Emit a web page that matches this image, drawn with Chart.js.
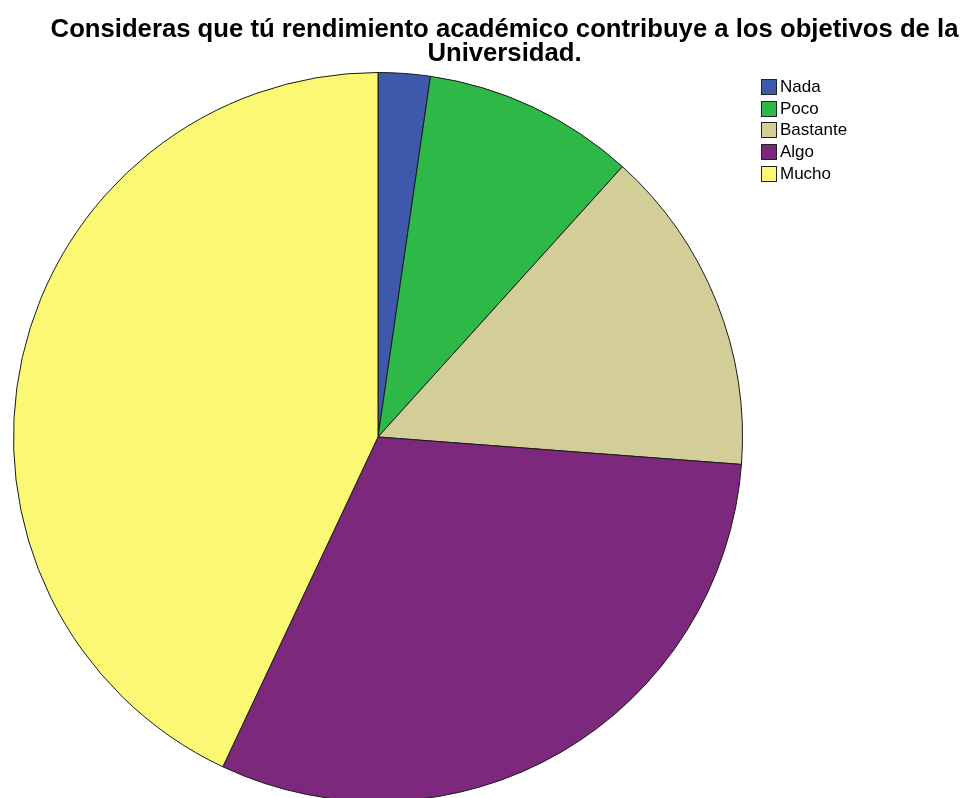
<!DOCTYPE html>
<html>
<head>
<meta charset="utf-8">
<script src="https://cdn.jsdelivr.net/npm/chart.js@4/dist/chart.umd.min.js"></script>
<style>
  html, body { margin: 0; padding: 0; background: #fff; overflow: hidden; }
  #wrap { position: relative; width: 965px; height: 798px; overflow: hidden; }
  #chart { position: absolute; left: 0; top: 0; }
  #title {
    position: absolute; left: 38.5px; width: 932px; top: 17px;
    text-align: center; font: bold 25.7px "Liberation Sans", Arial, sans-serif;
    line-height: 23.5px; color: #000; white-space: nowrap;
  }
  #legend { position: absolute; left: 761px; top: 76px; font: 17px "Liberation Sans", Arial, sans-serif; color: #000; }
  #legend .row { height: 21.75px; display: flex; align-items: center; }
  #legend .sw { width: 14px; height: 14px; border: 1px solid #222; margin-right: 3px; }
</style>
</head>
<body>
<div id="wrap">
  <canvas id="chart" width="965" height="810"></canvas>
  <div id="title">Consideras que tú rendimiento académico contribuye a los objetivos de la<br>Universidad.</div>
  <div id="legend"></div>
</div>
<script>
const categories = ["Nada", "Poco", "Bastante", "Algo", "Mucho"];
const percentages = [2.3, 9.4, 14.5, 30.8, 43.0];
const sliceColors = ["#3E58AC", "#2EB848", "#D3CE97", "#7C287D", "#FBF873"];

// legend rows: coloured swatch followed by the category name
const legend = document.getElementById("legend");
categories.forEach((name, i) => {
  const row = document.createElement("div");
  row.className = "row";
  const sw = document.createElement("div");
  sw.className = "sw";
  sw.style.background = sliceColors[i];
  const label = document.createElement("span");
  label.textContent = name;
  row.appendChild(sw);
  row.appendChild(label);
  legend.appendChild(row);
});

// pie starts at 12 o'clock and runs clockwise; the canvas is a little taller
// than the page so the bottom of the circle runs off the edge
new Chart(document.getElementById("chart"), {
  type: "pie",
  data: {
    labels: categories,
    datasets: [{
      data: percentages,
      backgroundColor: sliceColors,
      borderColor: "#1a1a1a",
      borderWidth: 1
    }]
  },
  options: {
    responsive: false,
    animation: false,
    layout: { padding: { left: 12.5, right: 221.5, top: 72, bottom: 8 } },
    plugins: {
      legend: { display: false },
      title: { display: false },
      tooltip: { enabled: false }
    }
  }
});
</script>
</body>
</html>
